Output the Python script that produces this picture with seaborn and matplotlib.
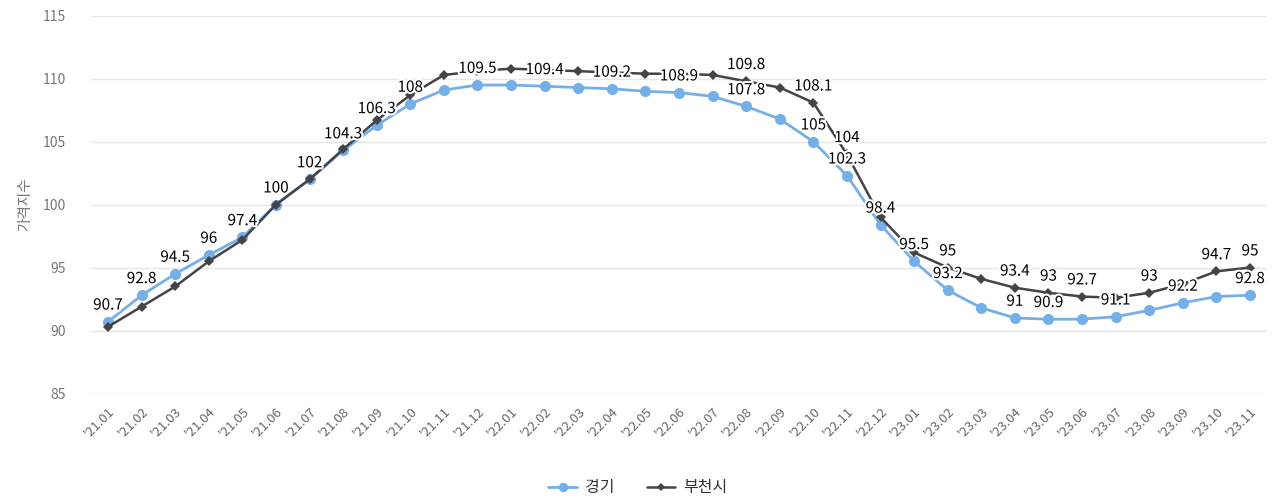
import matplotlib
matplotlib.use('Agg')
import pandas as pd
import matplotlib.pyplot as plt
import matplotlib.patheffects as pe
import seaborn as sns

# 월별 라벨
months = ["'21.01", "'21.02", "'21.03", "'21.04", "'21.05", "'21.06", "'21.07",
          "'21.08", "'21.09", "'21.10", "'21.11", "'21.12", "'22.01", "'22.02",
          "'22.03", "'22.04", "'22.05", "'22.06", "'22.07", "'22.08", "'22.09",
          "'22.10", "'22.11", "'22.12", "'23.01", "'23.02", "'23.03", "'23.04",
          "'23.05", "'23.06", "'23.07", "'23.08", "'23.09", "'23.10", "'23.11"]

# 가격지수
gyeonggi = [90.7, 92.8, 94.5, 96.0, 97.4, 100.0, 102.0, 104.3, 106.3, 108.0,
            109.1, 109.5, 109.5, 109.4, 109.3, 109.2, 109.0, 108.9, 108.6, 107.8,
            106.8, 105.0, 102.3, 98.4, 95.5, 93.2, 91.8, 91.0, 90.9, 90.9,
            91.1, 91.6, 92.2, 92.7, 92.8]
bucheon = [90.3, 91.9, 93.5, 95.5, 97.2, 100.0, 102.0, 104.4, 106.7, 108.7,
           110.3, 110.6, 110.8, 110.7, 110.6, 110.5, 110.4, 110.4, 110.3, 109.8,
           109.3, 108.1, 104.0, 99.0, 96.2, 95.0, 94.1, 93.4, 93.0, 92.7,
           92.6, 93.0, 93.7, 94.7, 95.0]

# 데이터 라벨이 표시된 지점
gyeonggi_label_idx = [0, 1, 2, 3, 4, 5, 6, 7, 8, 9, 11, 13, 15, 17, 19, 21, 22,
                      23, 24, 25, 27, 28, 30, 32, 34]
bucheon_label_idx = [19, 21, 22, 25, 27, 28, 29, 31, 33, 34]

series_names = ['경기', '부천시']
colors = ['#74afe8', '#434348']

sns.set_style('white')
plt.rcParams['font.family'] = ['Noto Sans CJK KR', 'DejaVu Sans']

fig = plt.figure(figsize=(12.76, 5.01), dpi=100)
ax = fig.add_axes([0.0715, 0.2146, 0.9213, 0.7539])

x = list(range(len(months)))
df_g = pd.DataFrame({'x': x, 'y': gyeonggi})
df_b = pd.DataFrame({'x': x, 'y': bucheon})

sns.lineplot(data=df_g, x='x', y='y', ax=ax, color=colors[0], marker='o',
             markersize=8, markeredgewidth=0, linewidth=2, label=series_names[0], zorder=3)
sns.lineplot(data=df_b, x='x', y='y', ax=ax, color=colors[1], marker='D',
             markersize=5, markeredgewidth=0, linewidth=1.8, label=series_names[1], zorder=4)

# 데이터 라벨
outline = [pe.withStroke(linewidth=3, foreground='white')]
for vals, idxs in [(gyeonggi, gyeonggi_label_idx), (bucheon, bucheon_label_idx)]:
    for i in idxs:
        ax.annotate(f'{vals[i]:g}', (i, vals[i]), xytext=(0, 12), textcoords='offset points',
                    ha='center', va='center', fontsize=11, color='black',
                    path_effects=outline, zorder=6)

ax.set_xlim(-0.5, len(months) - 0.5)
ax.set_ylim(85, 115)
ax.set_yticks([85, 90, 95, 100, 105, 110, 115])
ax.set_xticks(x)
ax.set_xticklabels(months, rotation=45, ha='right', rotation_mode='anchor')
ax.tick_params(axis='x', colors='#666666', labelsize=9.5, length=0, pad=8)
ax.tick_params(axis='y', colors='#777777', labelsize=10, length=0, pad=18)

ax.grid(axis='y', color='#e6e6e6', linewidth=1)
ax.set_axisbelow(True)
for spine in ax.spines.values():
    spine.set_visible(False)

ax.set_xlabel('')
ax.set_ylabel('가격지수', color='#777777', fontsize=10.5, labelpad=8)

ax.legend_.remove()
handles, labels = ax.get_legend_handles_labels()
fig.legend(handles, labels, loc='center', bbox_to_anchor=(0.5, 0.026), ncol=2,
           frameon=False, fontsize=11.5, handlelength=1.8, columnspacing=2, handletextpad=0.5,
           labelcolor='#333333', markerscale=0.85)

plt.savefig('out.png', dpi=100)
plt.close(fig)
